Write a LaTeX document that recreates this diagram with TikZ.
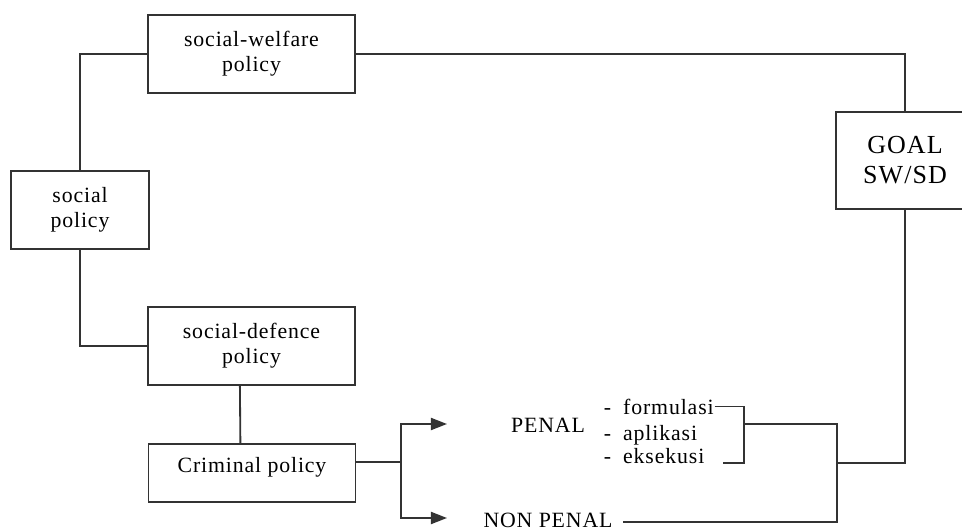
\documentclass[tikz,border=0pt]{standalone}
\usepackage{fontspec}
\setmainfont{Liberation Serif}[LetterSpace=4]
\usepackage{tikz}
\usetikzlibrary{arrows.meta}
\newcommand{\boxfont}{\fontsize{15.5pt}{17.8pt}\selectfont}
\newcommand{\goalfont}{\fontsize{18.5pt}{21.3pt}\selectfont}
\tikzset{policybox/.style={draw,rectangle,inner sep=0pt,align=center,font=\boxfont},
         plain/.style={inner sep=0pt,font=\boxfont},
         link/.style={draw=black!80,line width=1.3pt},
         branch/.style={link,-{Triangle[length=4mm,width=3mm]}}}

\begin{document}
\begin{tikzpicture}[x=0.025cm, y=-0.025cm, every node/.append style={draw=black!80, line width=1.3pt}]
  \useasboundingbox (0,0) rectangle (962,531);
  % boxes
  \node[policybox, minimum width=5.175cm, minimum height=1.95cm] (welfare) at (251.5,54) {social-welfare\\policy};
  \node[policybox, minimum width=3.45cm, minimum height=1.95cm] (social) at (80,210) {social\\policy};
  \node[policybox, minimum width=5.175cm, minimum height=1.95cm] (defence) at (251.5,346) {social-defence\\policy};
  \node[policybox, minimum width=5.175cm, text height=0.7cm, text depth=0.73cm] (criminal) at (252,473) {Criminal policy};
  \node[policybox, font=\goalfont, minimum width=3.45cm, minimum height=2.425cm] (goal) at (905,160.5) {GOAL\\SW/SD};
  % texts
  \node[plain, draw=none, anchor=base] (penal) at (548,432) {PENAL};
  \node[plain, draw=none, anchor=base] (nonpenal) at (548,527) {NON PENAL};
  \node[plain, draw=none, anchor=base west] (formulasi) at (603,414) {-\hspace{0.55em}formulasi};
  \node[plain, draw=none, anchor=base west] (aplikasi) at (603,440) {-\hspace{0.55em}aplikasi};
  \node[plain, draw=none, anchor=base west] (eksekusi) at (603,463) {-\hspace{0.55em}eksekusi};
  % points
  \coordinate (fork) at (401,462);
  \coordinate (penalend) at (447,424);
  \coordinate (nonend) at (447,518);
  \coordinate (brbottom) at (744,463);
  \coordinate (brmid) at (744,424);
  \coordinate (join) at (837,424);
  \coordinate (joinmid) at (837,463);
  % links
  \draw[link] (welfare.west) -| (social.north);
  \draw[link] (social.south) |- (defence.west);
  \draw[link] ([xshift=-0.29cm]defence.south) -- ([xshift=-0.29cm]criminal.north);
  \draw[link] (welfare.east) -| (goal.north);
  \draw[link] (fork -| criminal.east) -- (fork);
  \draw[branch] (fork) |- (penalend);
  \draw[branch] (fork) |- (nonend);
  \draw[link] (formulasi.east) -| (brbottom) -- ++(-21,0);
  \draw[link] (brmid) -- (join) -- (join |- 0,522) -- ([xshift=0.25cm]nonpenal.east |- 0,522);
  \draw[link] (joinmid) -| (goal.south);
\end{tikzpicture}
\end{document}
